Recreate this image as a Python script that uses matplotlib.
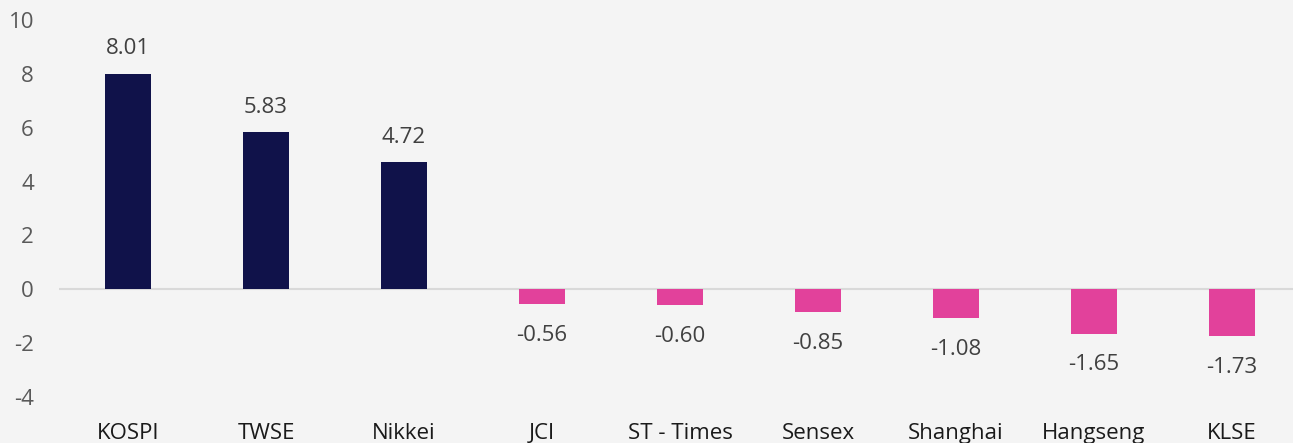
import matplotlib.pyplot as plt
import numpy as np

# Datos del gráfico
indices = ["KOSPI", "TWSE", "Nikkei", "JCI", "ST - Times", "Sensex", "Shanghai", "Hangseng", "KLSE"]
valores = [8.01, 5.83, 4.72, -0.56, -0.60, -0.85, -1.08, -1.65, -1.73]
yticks = [-4, -2, 0, 2, 4, 6, 8, 10]

plt.rcParams['font.family'] = ['Open Sans', 'DejaVu Sans']

fondo = '#f4f4f4'
azul = '#10124a'
rosa = '#e2419b'

fig = plt.figure(figsize=(12.93, 4.43), dpi=100, facecolor=fondo)
ax = fig.add_axes([59 / 1293, 46 / 443, 1 - 59 / 1293, 377 / 443])
ax.set_facecolor(fondo)

x = np.arange(len(indices))
colores = [azul if v >= 0 else rosa for v in valores]
ax.bar(x, valores, width=0.335, color=colores, zorder=3)

# Etiquetas de valor
for xi, v in zip(x, valores):
    if v >= 0:
        ax.annotate(f"{v:.2f}", (xi, v), xytext=(0, 18), textcoords='offset points',
                    ha='center', va='center', fontsize=16, color='#404040')
    else:
        ax.annotate(f"{v:.2f}", (xi, v), xytext=(0, -22.5), textcoords='offset points',
                    ha='center', va='center', fontsize=16, color='#404040')

ax.axhline(0, color='#d9d9d9', linewidth=1.5, zorder=2)

ax.set_xlim(-0.5, (1293 - 128) / 138)
ax.set_ylim(-4, 10)
ax.set_yticks(yticks)
ax.set_yticklabels([str(t) for t in yticks], fontsize=16, color='#595959')
ax.set_xticks(x)
ax.set_xticklabels(indices, fontsize=16, color='#1a1a1a')
ax.tick_params(axis='both', length=0)
ax.tick_params(axis='y', pad=18)
ax.tick_params(axis='x', pad=19)

for s in ax.spines.values():
    s.set_visible(False)

fig.savefig("out.png", dpi=100, facecolor=fondo)
